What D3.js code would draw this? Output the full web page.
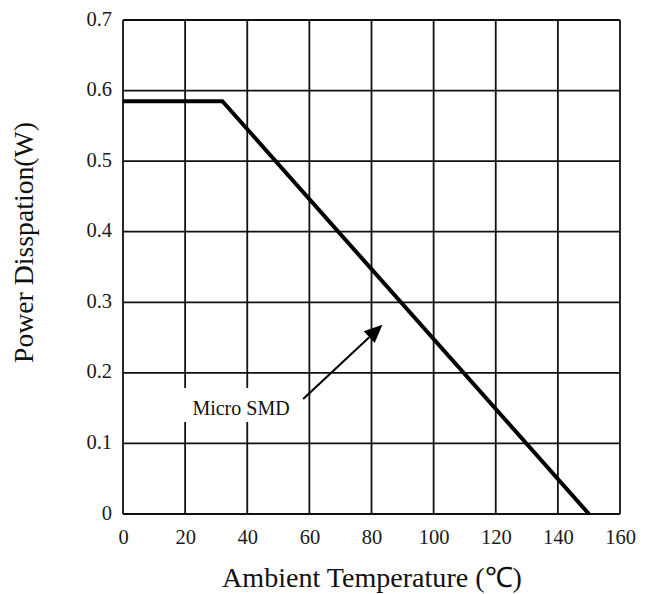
<!DOCTYPE html>
<html>
<head>
<meta charset="utf-8">
<script src="https://cdn.jsdelivr.net/npm/d3@7"></script>
<style>
  html, body { margin: 0; padding: 0; background: #fff; }
  svg { display: block; }
</style>
</head>
<body>
<svg id="chart" width="646" height="594"></svg>
<script>
// ---- data ----
const xTicks = [0, 20, 40, 60, 80, 100, 120, 140, 160];
const yTicks = [0, 0.1, 0.2, 0.3, 0.4, 0.5, 0.6, 0.7];
const yTickLabels = ["0", "0.1", "0.2", "0.3", "0.4", "0.5", "0.6", "0.7"];
const curveTemp = [0, 32, 150];
const curvePower = [0.585, 0.585, 0];
const annotationText = "Micro SMD";
const arrowFrom = [58, 0.163];
const arrowTo = [83.5, 0.268];
const xTitle = "Ambient Temperature (\u2103)";
const yTitle = "Power Disspation(W)";

(function () {
const FONT = "'Liberation Serif', 'Times New Roman', Tinos, serif";
const svg = d3.select("#chart");
const pL = 123, pR = 620, pT = 20, pB = 514;
const x = d3.scaleLinear().domain([0, 160]).range([pL, pR]);
const y = d3.scaleLinear().domain([0, 0.7]).range([pB, pT]);

// grid
const g = svg.append("g");
g.selectAll("line.vx").data(xTicks).join("line")
  .attr("x1", d => x(d)).attr("x2", d => x(d))
  .attr("y1", pT).attr("y2", pB)
  .attr("stroke", "#111").attr("stroke-width", 1.8);
g.selectAll("line.hy").data(yTicks).join("line")
  .attr("y1", d => y(d)).attr("y2", d => y(d))
  .attr("x1", pL).attr("x2", pR)
  .attr("stroke", "#111").attr("stroke-width", 1.8);

// axes (labels only)
const xAxis = d3.axisBottom(x).tickValues(xTicks).tickSize(0).tickPadding(15);
svg.append("g").attr("transform", `translate(0,${pB})`).call(xAxis)
  .call(s => s.select(".domain").remove())
  .call(s => s.selectAll("text").attr("font-size", 20.5)
    .attr("font-family", FONT).attr("fill", "#1a1a1a"));

const yAxis = d3.axisLeft(y).tickValues(yTicks).tickSize(0).tickPadding(11)
  .tickFormat((d, i) => yTickLabels[i]);
svg.append("g").attr("transform", `translate(${pL},0)`).call(yAxis)
  .call(s => s.select(".domain").remove())
  .call(s => s.selectAll("text").attr("font-size", 20.5).attr("dy", "0.25em")
    .attr("font-family", FONT).attr("fill", "#1a1a1a"));

// curve
const pts = curveTemp.map((t, i) => [t, curvePower[i]]);
svg.append("path").datum(pts)
  .attr("d", d3.line().x(d => x(d[0])).y(d => y(d[1])))
  .attr("fill", "none").attr("stroke", "#000").attr("stroke-width", 4)
  .attr("stroke-linejoin", "miter");

// annotation label with white background
svg.append("rect").attr("x", 181).attr("y", 388).attr("width", 115).attr("height", 34).attr("fill", "#fff");
svg.append("text").attr("x", 241).attr("y", 415).attr("text-anchor", "middle")
  .attr("font-family", FONT).attr("font-size", 20).attr("fill", "#111").text(annotationText);

// arrow
const ax1 = x(arrowFrom[0]), ay1 = y(arrowFrom[1]);
const ax2 = x(arrowTo[0]), ay2 = y(arrowTo[1]);
const ang = Math.atan2(ay2 - ay1, ax2 - ax1);
const headLen = 18, headW = 8;
const bx = ax2 - headLen * Math.cos(ang), by = ay2 - headLen * Math.sin(ang);
svg.append("line").attr("x1", ax1).attr("y1", ay1).attr("x2", bx).attr("y2", by)
  .attr("stroke", "#000").attr("stroke-width", 2);
const px = -Math.sin(ang), py = Math.cos(ang);
svg.append("path")
  .attr("d", `M${ax2},${ay2}L${bx + px * headW},${by + py * headW}L${bx - px * headW},${by - py * headW}Z`)
  .attr("fill", "#000");

// titles
const xt = svg.append("text").attr("x", 372).attr("y", 587)
  .attr("text-anchor", "middle").attr("font-family", FONT).attr("font-size", 20)
  .attr("fill", "#111").text(xTitle);
const xw = xt.node().getComputedTextLength();
xt.attr("font-size", Math.min(30, 20 * 300 / xw));

const yt = svg.append("text").attr("transform", "translate(33,242.5) rotate(-90)")
  .attr("text-anchor", "middle").attr("font-family", FONT).attr("font-size", 20)
  .attr("fill", "#111").text(yTitle);
const yw = yt.node().getComputedTextLength();
yt.attr("font-size", Math.min(30, 20 * 241 / yw));
})();
</script>
</body>
</html>
